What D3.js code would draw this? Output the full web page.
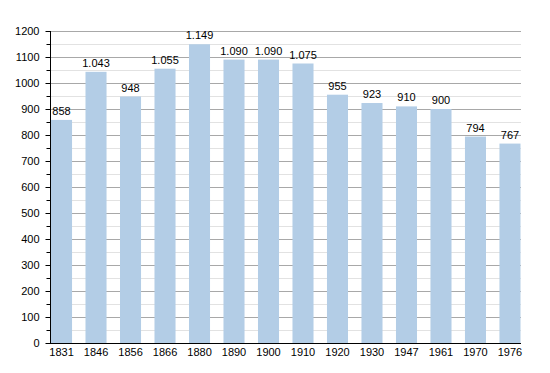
<!DOCTYPE html>
<html>
<head>
<meta charset="utf-8">
<script src="https://cdn.jsdelivr.net/npm/d3@7"></script>
<style>
  body { margin: 0; background: #fff; }
  svg text { font-family: "Liberation Sans", Arial, sans-serif; font-size: 11px; fill: #000; }
</style>
</head>
<body>
<svg></svg>
<script>
// population data
let years = ['1831','1846','1856','1866','1880','1890','1900','1910','1920','1930','1947','1961','1970','1976']
let population = [858, 1043, 948, 1055, 1149, 1090, 1090, 1075, 955, 923, 910, 900, 794, 767]
let yTicks = [0, 100, 200, 300, 400, 500, 600, 700, 800, 900, 1000, 1100, 1200]

let width = 550
let height = 373
let plotLeft = 51
let plotRight = 521
let plotTop = 31
let plotBottom = 343

let svg = d3.select('svg')
    .attr('width', width)
    .attr('height', height)

// first bar touches the axis, last one the right edge
let xScale = d3.scaleBand()
    .domain(years)
    .range([plotLeft, plotRight - 0.5])
    .paddingInner(0.39)
    .paddingOuter(0)

let yScale = d3.scaleLinear()
    .domain([0, 1200])
    .range([plotBottom, plotTop])

// minor gridlines at every 50
let minor = d3.range(50, 1200, 100)
svg.append('g')
    .selectAll('line')
    .data(minor)
    .enter()
    .append('line')
    .attr('x1', plotLeft)
    .attr('x2', plotRight)
    .attr('y1', d => Math.round(yScale(d)) + 0.5)
    .attr('y2', d => Math.round(yScale(d)) + 0.5)
    .attr('stroke', '#e2e2e2')

// major gridlines
svg.append('g')
    .selectAll('line')
    .data(yTicks.slice(1))
    .enter()
    .append('line')
    .attr('x1', plotLeft)
    .attr('x2', plotRight)
    .attr('y1', d => Math.round(yScale(d)) + 0.5)
    .attr('y2', d => Math.round(yScale(d)) + 0.5)
    .attr('stroke', '#a8a8a8')

// bars
svg.selectAll('rect.bar')
    .data(population)
    .enter()
    .append('rect')
    .attr('class', 'bar')
    .attr('x', (d, i) => xScale(years[i]))
    .attr('width', xScale.bandwidth())
    .attr('y', d => yScale(d))
    .attr('height', d => plotBottom - yScale(d))
    .attr('fill', '#b3cde6')

// value labels, dot as thousands separator
let fmt = d3.formatLocale({ decimal: ',', thousands: '.', grouping: [3], currency: ['', ''] }).format(',')
svg.selectAll('text.val')
    .data(population)
    .enter()
    .append('text')
    .attr('class', 'val')
    .attr('x', (d, i) => xScale(years[i]) + xScale.bandwidth() / 2)
    .attr('y', d => yScale(d) - 5)
    .attr('text-anchor', 'middle')
    .text(d => fmt(d))

// y axis with minor ticks
let yAxis = d3.axisLeft(yScale)
    .tickValues(yTicks)
    .tickSize(5)
    .tickPadding(6)
    .tickFormat(d3.format('d'))
let gy = svg.append('g')
    .attr('transform', 'translate(' + (plotLeft - 0.5) + ',0)')
    .call(yAxis)
gy.select('.domain').attr('stroke', '#000').attr('d', 'M0,' + plotTop + 'V' + plotBottom)
gy.selectAll('.tick line').attr('stroke', '#000')
gy.selectAll('text').attr('font-size', null).attr('font-family', null)

let gyMinor = svg.append('g')
    .attr('transform', 'translate(' + (plotLeft - 0.5) + ',0)')
    .call(d3.axisLeft(yScale).tickValues(minor).tickSize(4).tickFormat(''))
gyMinor.select('.domain').remove()
gyMinor.selectAll('.tick line').attr('stroke', '#000')

// x axis
let xAxis = d3.axisBottom(xScale).tickSize(0).tickPadding(5)
let gx = svg.append('g')
    .attr('transform', 'translate(0,' + (plotBottom + 0.5) + ')')
    .call(xAxis)
gx.select('.domain').attr('stroke', '#000').attr('d', 'M' + (plotLeft - 5) + ',0H' + plotRight)
gx.selectAll('text').attr('font-size', null).attr('font-family', null)
</script>
</body>
</html>
